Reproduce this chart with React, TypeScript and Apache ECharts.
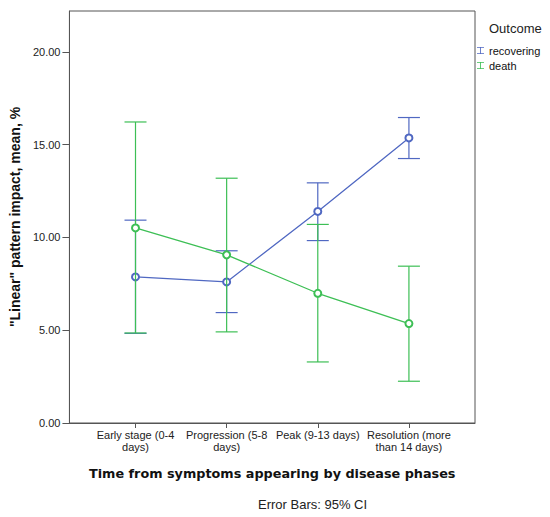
import React, { useEffect, useRef } from "react";
import * as echarts from "echarts";

const categories = [
  "Early stage (0-4\ndays)",
  "Progression (5-8\ndays)",
  "Peak (9-13 days)",
  "Resolution (more\nthan 14 days)",
];
const seriesNames = ["recovering", "death"];
const recoveringMean = [7.87, 7.6, 11.4, 15.36];
const recoveringLow = [4.83, 5.95, 9.83, 14.25];
const recoveringHigh = [10.93, 9.28, 12.94, 16.46];
const deathMean = [10.51, 9.06, 6.99, 5.36];
const deathLow = [4.85, 4.91, 3.29, 2.25];
const deathHigh = [16.22, 13.19, 10.7, 8.45];
const yTicks = [0, 5, 10, 15, 20];

const BLUE = "#5068c2";
const GREEN = "#3dbf55";
const FONT = "Liberation Sans, Arial, sans-serif";
const IBAR = "path://M0,0H10V0.9H5.6V9.1H10V10H0V9.1H4.4V0.9H0Z";

function errorSeries(name: string, low: number[], high: number[], color: string, z: number) {
  return {
    type: "custom",
    name: name + " CI",
    z,
    silent: true,
    data: low.map((l, i) => [i, l, high[i]]),
    encode: { x: 0, y: [1, 2] },
    renderItem: (params: any, api: any) => {
      const x = api.value(0);
      const pLo = api.coord([x, api.value(1)]);
      const pHi = api.coord([x, api.value(2)]);
      const w = 11;
      const st = { stroke: color, lineWidth: 1.2 };
      return {
        type: "group",
        children: [
          { type: "line", shape: { x1: pLo[0], y1: pLo[1], x2: pHi[0], y2: pHi[1] }, style: st },
          { type: "line", shape: { x1: pLo[0] - w, y1: pLo[1], x2: pLo[0] + w, y2: pLo[1] }, style: st },
          { type: "line", shape: { x1: pHi[0] - w, y1: pHi[1], x2: pHi[0] + w, y2: pHi[1] }, style: st },
        ],
      };
    },
  };
}

function lineSeries(name: string, mean: number[], color: string, z: number) {
  return {
    type: "line",
    name,
    z,
    data: mean.map((m, i) => [i, m]),
    symbol: "emptyCircle",
    symbolSize: 7,
    itemStyle: { color, borderColor: color, borderWidth: 0.9 },
    lineStyle: { color, width: 1.3 },
  };
}

export default function App() {
  const ref = useRef<HTMLDivElement>(null);
  useEffect(() => {
    if (!ref.current) return;
    const chart = echarts.init(ref.current, undefined, { renderer: "svg" });
    chart.setOption({
      animation: false,
      backgroundColor: "#ffffff",
      title: {
        text: "Outcome",
        left: 484,
        top: 17,
        textStyle: { fontFamily: FONT, fontSize: 13, fontWeight: "normal", color: "#222" },
      },
      legend: {
        orient: "vertical",
        left: 472,
        top: 40,
        itemWidth: 7,
        itemHeight: 10,
        itemGap: 4,
        data: [
          { name: seriesNames[0], icon: IBAR, itemStyle: { color: BLUE, borderWidth: 0 } },
          { name: seriesNames[1], icon: IBAR, itemStyle: { color: GREEN, borderWidth: 0 } },
        ],
        textStyle: { fontFamily: FONT, fontSize: 11, color: "#111" },
      },
      grid: {
        left: 67,
        top: 11,
        right: 75,
        bottom: 94,
        show: true,
        borderColor: "#555",
        borderWidth: 1,
        backgroundColor: "transparent",
      },
      xAxis: {
        type: "value",
        min: -0.725,
        max: 3.725,
        name: "Time from symptoms appearing by disease phases",
        nameLocation: "middle",
        nameGap: 44,
        nameTextStyle: { fontFamily: "DejaVu Sans, sans-serif", fontSize: 12.8, fontWeight: "bold", color: "#111" },
        axisLine: { show: true, onZero: false, lineStyle: { color: "#555", width: 1 } },
        axisTick: { show: true, customValues: [0, 1, 2, 3], length: 5, lineStyle: { color: "#555" } },
        axisLabel: {
          customValues: [0, 1, 2, 3],
          formatter: (v: number) => categories[Math.round(v)] ?? "",
          fontFamily: FONT,
          fontSize: 11,
          lineHeight: 12,
          color: "#222",
          margin: 6,
        },
        splitLine: { show: false },
      },
      yAxis: {
        type: "value",
        min: 0,
        max: 22.2,
        interval: 5,
        name: '"Linear" pattern impact, mean, %',
        nameLocation: "middle",
        nameGap: 45,
        nameTextStyle: { fontFamily: FONT, fontSize: 14, fontWeight: "bold", color: "#111" },
        axisLine: { show: true, onZero: false, lineStyle: { color: "#555", width: 1 } },
        axisTick: { show: true, length: 7, lineStyle: { color: "#555" }, customValues: yTicks },
        axisLabel: {
          customValues: yTicks,
          formatter: (v: number) => v.toFixed(2),
          fontFamily: FONT,
          fontSize: 11,
          color: "#222",
          margin: 9,
        },
        splitLine: { show: false },
      },
      graphic: [
        {
          type: "text",
          left: 258,
          top: 498,
          style: { text: "Error Bars: 95% CI", fontFamily: FONT, fontSize: 13, fill: "#222" },
        },
      ],
      series: [
        errorSeries(seriesNames[0], recoveringLow, recoveringHigh, BLUE, 2),
        lineSeries(seriesNames[0], recoveringMean, BLUE, 3),
        errorSeries(seriesNames[1], deathLow, deathHigh, GREEN, 4),
        lineSeries(seriesNames[1], deathMean, GREEN, 5),
      ],
    });
    return () => chart.dispose();
  }, []);
  return (
    <div
      ref={ref}
      style={{ position: "fixed", left: 0, top: 0, width: 550, height: 517 }}
    />
  );
}
